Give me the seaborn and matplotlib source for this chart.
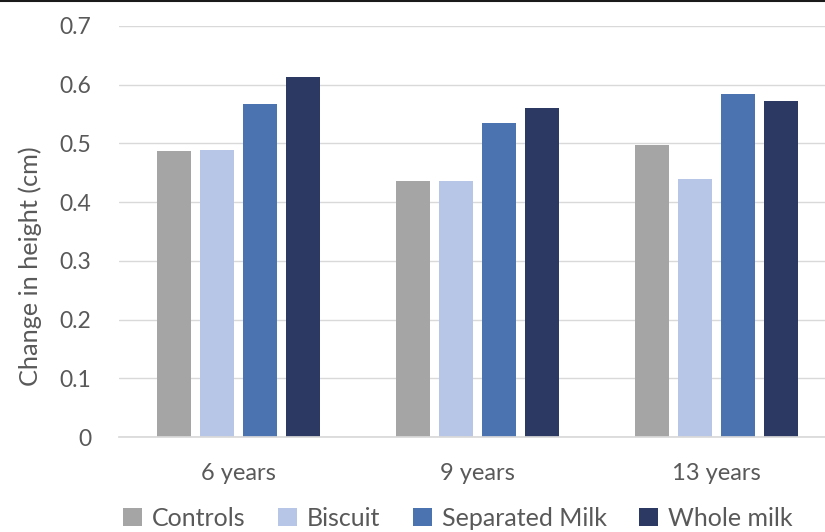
import matplotlib
matplotlib.use("Agg")
import matplotlib.pyplot as plt
from matplotlib.lines import Line2D
import seaborn as sns
import pandas as pd

categories = ["6 years", "9 years", "13 years"]
groups = ["Controls", "Biscuit", "Separated Milk", "Whole milk"]
controls = [0.487, 0.436, 0.497]
biscuit = [0.489, 0.436, 0.440]
separated_milk = [0.568, 0.534, 0.584]
whole_milk = [0.613, 0.560, 0.572]
y_ticks = [0, 0.1, 0.2, 0.3, 0.4, 0.5, 0.6, 0.7]
y_tick_labels = ["0", "0.1", "0.2", "0.3", "0.4", "0.5", "0.6", "0.7"]
colors = ["#a5a5a5", "#b7c6e6", "#4a73b0", "#2c3a63"]

rows = []
for g, vals in zip(groups, [controls, biscuit, separated_milk, whole_milk]):
    for c, v in zip(categories, vals):
        rows.append({"Age": c, "Group": g, "Change": v})
df = pd.DataFrame(rows)

sns.set_theme(style="white")
plt.rcParams["font.family"] = ["Lato", "DejaVu Sans"]

fig = plt.figure(figsize=(8.25, 5.32), dpi=100)
ax = fig.add_axes([119 / 825, (532 - 437) / 532, (825 - 119) / 825, (437 - 26) / 532])

sns.barplot(data=df, x="Age", y="Change", hue="Group", order=categories,
            hue_order=groups, palette=colors, saturation=1, width=0.72, gap=0.21,
            ax=ax, legend=True, edgecolor="none", linewidth=0)

ax.set_ylim(0, 0.7)
ax.set_xlim(-0.5, (825 - 119) / 239 - 0.5)
ax.set_yticks(y_ticks)
ax.set_yticklabels(y_tick_labels)
ax.yaxis.grid(True, color="#d9d9d9", linewidth=1)
ax.set_axisbelow(True)
for s in ["top", "right", "left"]:
    ax.spines[s].set_visible(False)
ax.spines["bottom"].set_color("#d9d9d9")
ax.tick_params(axis="both", length=0, labelsize=16.5, colors="#595959")
ax.tick_params(axis="y", pad=20)
ax.tick_params(axis="x", pad=19, labelsize=17)
ax.set_xlabel("")
ax.set_ylabel("Change in height (cm)", fontsize=18.2, color="#595959")
ax.yaxis.set_label_coords(-(119 - 42) / 706, (437 - 266) / 411)

leg = ax.get_legend()
handles = leg.legend_handles
leg.remove()
fig.legend(handles=handles, labels=groups, loc="center", bbox_to_anchor=(458 / 825, 1 - 518 / 532),
           ncol=4, frameon=False, fontsize=18, labelcolor="#595959",
           handlelength=0.75, handleheight=0.75, handletextpad=0.4, columnspacing=1.3)

fig.add_artist(Line2D([0, 1], [1 - 0.8 / 532, 1 - 0.8 / 532], transform=fig.transFigure,
                      color="#1a1a1a", linewidth=1.5))

fig.savefig("out.png", dpi=100)
